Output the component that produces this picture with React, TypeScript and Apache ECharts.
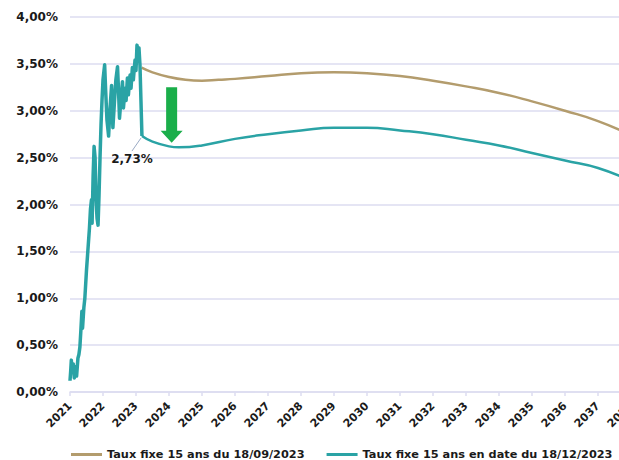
import React, { useEffect, useRef } from "react";
import * as echarts from "echarts";

const X_MIN = 2021;
const X_MAX = 2038;
const Y_MIN = 0;
const Y_MAX = 4;
const Y_STEP = 0.5;

const SERIES_NAMES = [
  "Taux fixe 15 ans du 18/09/2023",
  "Taux fixe 15 ans en date du 18/12/2023",
];

// Historical 15y fixed rate (teal, measured)
const HIST_YEARS = [
  2021.0, 2021.02, 2021.04, 2021.07, 2021.1, 2021.13, 2021.17, 2021.2, 2021.24, 2021.27,
  2021.3, 2021.33, 2021.36, 2021.38, 2021.42, 2021.45, 2021.5, 2021.55, 2021.59, 2021.62,
  2021.65, 2021.67, 2021.7, 2021.73, 2021.76, 2021.79, 2021.82, 2021.85, 2021.88, 2021.91,
  2021.94, 2021.97, 2022.0, 2022.05, 2022.08, 2022.12, 2022.17, 2022.21, 2022.26, 2022.3,
  2022.35, 2022.39, 2022.44, 2022.47, 2022.5, 2022.55, 2022.59, 2022.62, 2022.67, 2022.7,
  2022.74, 2022.77, 2022.82, 2022.85, 2022.89, 2022.92, 2022.97, 2023.0, 2023.03, 2023.06,
  2023.09, 2023.12, 2023.15, 2023.18,
];
const HIST_VALUES = [
  0.12, 0.22, 0.34, 0.22, 0.3, 0.15, 0.27, 0.17, 0.36, 0.4,
  0.48, 0.66, 0.86, 0.68, 0.9, 1.0, 1.3, 1.55, 1.75, 1.95,
  2.05, 1.8, 2.3, 2.62, 2.5, 2.05, 1.85, 1.78, 2.1, 2.5,
  2.85, 3.11, 3.33, 3.49, 3.22, 2.9, 2.73, 3.01, 3.27, 2.82,
  3.11, 3.33, 3.47, 3.22, 2.92, 3.14, 3.31, 3.03, 3.24, 3.11,
  3.35, 3.17, 3.38, 3.24, 3.46, 3.33, 3.54, 3.43, 3.7, 3.63,
  3.67, 3.49, 3.11, 2.73,
];

// Forward curve as of 18/09/2023 (beige)
const BEIGE_YEARS = [
  2023.17, 2023.5, 2024, 2024.5, 2025, 2025.5, 2026, 2027, 2028, 2029,
  2030, 2031, 2032, 2033, 2034, 2035, 2036, 2037, 2038,
];
const BEIGE_VALUES = [
  3.46, 3.41, 3.36, 3.33, 3.32, 3.33, 3.34, 3.37, 3.4, 3.41,
  3.4, 3.37, 3.32, 3.26, 3.19, 3.1, 3.0, 2.89, 2.74,
];

// Forward curve as of 18/12/2023 (teal)
const TEAL_FWD_YEARS = [
  2023.18, 2023.5, 2024, 2024.3, 2025, 2026, 2027, 2028, 2029, 2030,
  2031, 2032, 2033, 2034, 2035, 2036, 2037, 2038,
];
const TEAL_FWD_VALUES = [
  2.73, 2.67, 2.62, 2.61, 2.63, 2.7, 2.75, 2.79, 2.82, 2.82,
  2.79, 2.75, 2.69, 2.63, 2.55, 2.47, 2.39, 2.25,
];

const SPOT_LABEL = { year: 2023.18, value: 2.73, text: "2,73%" };
const ARROW = { year: 2024.08, from: 3.25, to: 2.66 };

const BEIGE = "#b39c6d";
const TEAL = "#2aa3a5";
const GREEN = "#1aae4a";
const GRID = "#dcdcf0";
const FONT = '"DejaVu Sans", sans-serif';

const zip = (xs: number[], ys: number[]) => xs.map((x, i) => [x, ys[i]]);

export default function App() {
  const ref = useRef<HTMLDivElement>(null);

  useEffect(() => {
    if (!ref.current) return;
    const chart = echarts.init(ref.current, null, { renderer: "svg" });
    const option: any = {
      animation: false,
      backgroundColor: "#ffffff",
      grid: {
        left: 70,
        top: 17,
        width: 561,
        height: 375,
        containLabel: false,
        outerBoundsMode: "none",
      },
      legend: {
        data: SERIES_NAMES,
        left: 66,
        top: 444,
        icon: "rect",
        itemWidth: 31,
        itemHeight: 3,
        itemGap: 22,
        textStyle: { fontFamily: FONT, fontWeight: "bold", fontSize: 11.3, color: "#1a1a1a" },
      },
      xAxis: {
        type: "value",
        min: X_MIN,
        max: X_MAX,
        interval: 1,
        axisLine: { show: true, lineStyle: { color: GRID, width: 1.5 } },
        axisTick: { show: true, length: 4, lineStyle: { color: GRID, width: 1.5 } },
        splitLine: { show: false },
        axisLabel: {
          rotate: 45,
          margin: 12,
          formatter: (v: number) => String(v),
          fontFamily: FONT,
          fontWeight: "bold",
          fontSize: 11,
          color: "#1a1a1a",
        },
      },
      yAxis: {
        type: "value",
        min: Y_MIN,
        max: Y_MAX,
        interval: Y_STEP,
        axisLine: { show: false },
        axisTick: { show: false },
        splitLine: { show: true, lineStyle: { color: GRID, width: 1.5 } },
        axisLabel: {
          margin: 12,
          formatter: (v: number) => v.toFixed(2).replace(".", ",") + "%",
          fontFamily: FONT,
          fontWeight: "bold",
          fontSize: 12,
          color: "#1a1a1a",
        },
      },
      series: [
        {
          name: SERIES_NAMES[0],
          type: "line",
          data: zip(BEIGE_YEARS, BEIGE_VALUES),
          smooth: true,
          showSymbol: false,
          symbol: "none",
          itemStyle: { color: BEIGE },
          lineStyle: { color: BEIGE, width: 2.5 },
        },
        {
          name: SERIES_NAMES[1],
          type: "line",
          data: zip(HIST_YEARS, HIST_VALUES),
          showSymbol: false,
          symbol: "none",
          itemStyle: { color: TEAL },
          lineStyle: { color: TEAL, width: 3.5, join: "round" },
        },
        {
          name: SERIES_NAMES[1],
          type: "line",
          data: zip(TEAL_FWD_YEARS, TEAL_FWD_VALUES),
          smooth: true,
          showSymbol: false,
          symbol: "none",
          itemStyle: { color: TEAL },
          lineStyle: { color: TEAL, width: 2.5 },
        },
      ],
    };
    chart.setOption(option);

    const p = chart.convertToPixel({ gridIndex: 0 }, [SPOT_LABEL.year, SPOT_LABEL.value]) as number[];
    const top = chart.convertToPixel({ gridIndex: 0 }, [ARROW.year, ARROW.from]) as number[];
    const tip = chart.convertToPixel({ gridIndex: 0 }, [ARROW.year, ARROW.to]) as number[];
    const cx = tip[0];
    const sw = 5.5;
    const hw = 11;
    const hh = 12;
    chart.setOption({
      graphic: [
        {
          type: "line",
          shape: { x1: p[0] - 10, y1: p[1] + 15, x2: p[0] - 1, y2: p[1] + 2 },
          style: { stroke: "#9aaac4", lineWidth: 1 },
          z: 10,
        },
        {
          type: "text",
          x: p[0] - 10,
          y: p[1] + 23,
          style: {
            text: SPOT_LABEL.text,
            fill: "#1a1a1a",
            font: `bold 12px ${FONT}`,
            align: "center",
            verticalAlign: "middle",
          },
          z: 10,
        },
        {
          type: "polygon",
          shape: {
            points: [
              [cx - sw, top[1]],
              [cx + sw, top[1]],
              [cx + sw, tip[1] - hh],
              [cx + hw, tip[1] - hh],
              [cx, tip[1]],
              [cx - hw, tip[1] - hh],
              [cx - sw, tip[1] - hh],
            ],
          },
          style: { fill: GREEN },
          z: 10,
        },
      ],
    });

    return () => chart.dispose();
  }, []);

  return (
    <div
      ref={ref}
      style={{ position: "fixed", left: 0, top: 0, width: 619, height: 460, background: "#fff" }}
    />
  );
}
